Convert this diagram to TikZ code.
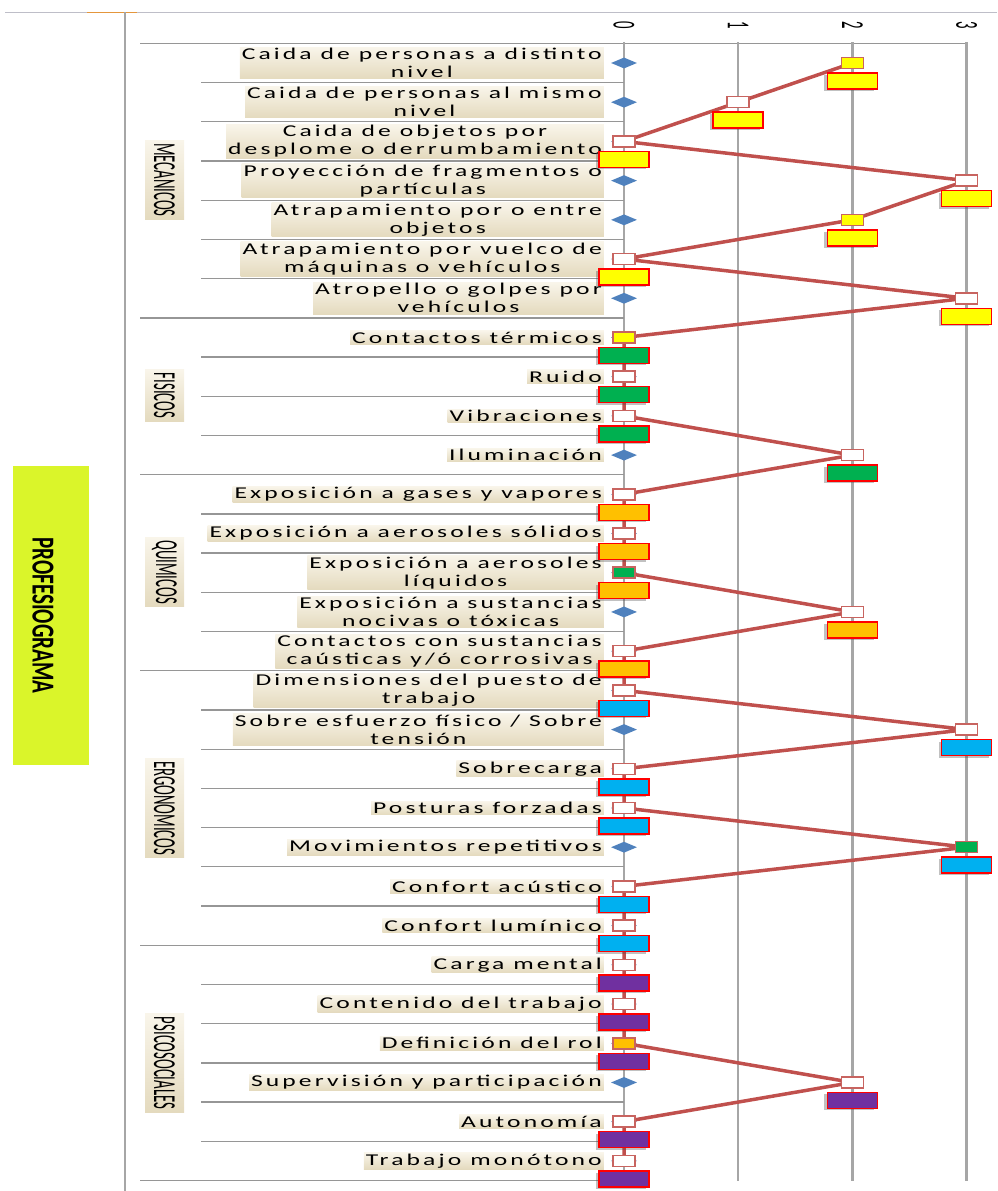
\documentclass[tikz,border=0pt]{standalone}
\usepackage{fontspec}
\setmainfont{Carlito}
\newfontfamily\etiqfont{Carlito}[FakeStretch=1.55,LetterSpace=19]
\newfontfamily\catfont{Carlito}[FakeStretch=0.46]
\newfontfamily\titfont{Carlito}[FakeStretch=0.66]
\usetikzlibrary{shapes.geometric,shadows}
\definecolor{lblTop}{RGB}{249,245,234}
\definecolor{lblBot}{RGB}{228,218,190}
\definecolor{gridgray}{RGB}{166,166,166}
\definecolor{rowgray}{RGB}{150,150,150}
\definecolor{serieRed}{RGB}{192,80,77}
\definecolor{markEdge}{RGB}{200,100,96}
\definecolor{diamondBlue}{RGB}{79,129,189}
\definecolor{mkYellow}{RGB}{255,255,0}
\definecolor{mkGreen}{RGB}{0,176,80}
\definecolor{mkOrange}{RGB}{255,192,0}
\definecolor{mkBlue}{RGB}{0,176,240}
\definecolor{mkPurple}{RGB}{112,48,160}
\definecolor{titleGreen}{RGB}{218,245,42}
\definecolor{topline}{RGB}{190,190,200}
\definecolor{cellOrange}{RGB}{228,150,60}
\tikzset{
  riesgo/.style={anchor=east, align=center, inner xsep=2pt, inner ysep=1pt,
    top color=lblTop, bottom color=lblBot,
    font=\etiqfont\fontsize{16.5}{18}\selectfont},
  categoria/.style={rotate=-90, inner xsep=3pt, inner ysep=0pt, minimum height=39pt,
    top color=lblTop, bottom color=lblBot,
    font=\catfont\fontsize{32}{32}\selectfont},
  titulo/.style={rotate=-90, fill=titleGreen, minimum width=299pt, minimum height=76pt,
    inner sep=0pt, text height=37pt, font=\titfont\bfseries\fontsize{32}{32}\selectfont},
  eje/.style={rotate=-90, inner sep=0pt, font=\catfont\fontsize{32}{32}\selectfont},
  rejilla/.style={gridgray, line width=2.5pt},
  fila/.style={rowgray, line width=1.3pt},
  rombo/.style={diamond, fill=diamondBlue, inner sep=0pt, minimum width=26pt, minimum height=11pt},
  serie/.style={serieRed, line width=3.5pt, line join=round},
  marca/.style={draw=markEdge, line width=1.5pt, minimum width=22pt, minimum height=11pt, inner sep=0pt},
  bloque/.style={draw=red, line width=1.5pt, minimum width=50pt, minimum height=16pt, inner sep=0pt,
    drop shadow={shadow xshift=-3pt, shadow yshift=-2pt, opacity=.35, fill=black!70}}
}

\begin{document}
\begin{tikzpicture}[x=1pt, y=-1pt]
\newcommand{\xcero}{624}
\newcommand{\unidad}{114.2}
\newcommand{\filaA}{63}
\newcommand{\paso}{39.21}
\useasboundingbox (0,0) rectangle (997,1191);
% marco
\draw[topline] (5,12) -- (997,12);
\draw[cellOrange, line width=1pt] (87,12) -- (137,12);
\draw[rejilla] (125,12) -- (125,1191);
\node[titulo] (prof) at (51,615.5) {PROFESIOGRAMA};
% rejilla y eje
\draw[fila] (140,43.4) -- (\xcero+3*\unidad,43.4);
\foreach \k in {0,...,3} {
  \draw[rejilla] (\xcero+\k*\unidad,42) -- (\xcero+\k*\unidad,1181);
  \node[eje] (e\k) at (\xcero+\k*\unidad,25) {\k};
}
\foreach \i in {1,...,29} {
  \pgfmathsetmacro\yb{\filaA+(\i-0.5)*\paso}
  \draw[fila] (201,\yb) -- (\xcero,\yb);
}
\foreach \i in {7,11,16,23,29} {
  \pgfmathsetmacro\yb{\filaA+(\i-0.5)*\paso}
  \draw[fila] (140,\yb) -- (201,\yb);
}
% grupos
\foreach \nom/\yy in {MECANICOS/180, FISICOS/395.5, QUIMICOS/572, ERGONOMICOS/808, PSICOSOCIALES/1063}
  \node[categoria] (c\nom) at (164.5,\yy) {\nom};
% riesgos
\foreach \i/\val/\txt in {
  1/2/{Caida de personas a distinto\\nivel},
  2/1/{Caida de personas al mismo\\nivel},
  3/0/{Caida de objetos por\\desplome o derrumbamiento},
  4/3/{Proyección de fragmentos o\\partículas},
  5/2/{Atrapamiento por o entre\\objetos},
  6/0/{Atrapamiento por vuelco de\\máquinas o vehículos},
  7/3/{Atropello o golpes por\\vehículos},
  8/0/{Contactos térmicos},
  9/0/{Ruido},
  10/0/{Vibraciones},
  11/2/{Iluminación},
  12/0/{Exposición a gases y vapores},
  13/0/{Exposición a aerosoles sólidos},
  14/0/{Exposición a aerosoles\\líquidos},
  15/2/{Exposición a sustancias\\nocivas o tóxicas},
  16/0/{Contactos con sustancias\\caústicas y/ó corrosivas},
  17/0/{Dimensiones del puesto de\\trabajo},
  18/3/{Sobre esfuerzo físico / Sobre\\tensión},
  19/0/{Sobrecarga},
  20/0/{Posturas forzadas},
  21/3/{Movimientos repetitivos},
  22/0/{Confort acústico},
  23/0/{Confort lumínico},
  24/0/{Carga mental},
  25/0/{Contenido del trabajo},
  26/0/{Definición del rol},
  27/2/{Supervisión y participación},
  28/0/{Autonomía},
  29/0/{Trabajo monótono}} {
  \pgfmathsetmacro\yc{\filaA+(\i-1)*\paso}
  \node[riesgo] (r\i) at (604,\yc) {\txt};
  \node[rombo] (d\i) at (\xcero,\yc) {};
  \coordinate (v\i) at (\xcero+\val*\unidad,\yc);
}
% serie
\draw[serie] (v1) \foreach \i in {2,...,29} { -- (v\i) };
\foreach \i/\cp/\cg in {1/mkYellow/mkYellow, 2/white/mkYellow, 3/white/mkYellow,
  4/white/mkYellow, 5/mkYellow/mkYellow, 6/white/mkYellow, 7/white/mkYellow,
  8/mkYellow/mkGreen, 9/white/mkGreen, 10/white/mkGreen, 11/white/mkGreen,
  12/white/mkOrange, 13/white/mkOrange, 14/mkGreen/mkOrange, 15/white/mkOrange,
  16/white/mkOrange, 17/white/mkBlue, 18/white/mkBlue, 19/white/mkBlue,
  20/white/mkBlue, 21/mkGreen/mkBlue, 22/white/mkBlue, 23/white/mkBlue,
  24/white/mkPurple, 25/white/mkPurple, 26/mkOrange/mkPurple, 27/white/mkPurple,
  28/white/mkPurple, 29/white/mkPurple} {
  \node[bloque, fill=\cg] (g\i) at ([yshift=-18pt]v\i) {};
  \node[marca, fill=\cp] (m\i) at (v\i) {};
}
\end{tikzpicture}
\end{document}
